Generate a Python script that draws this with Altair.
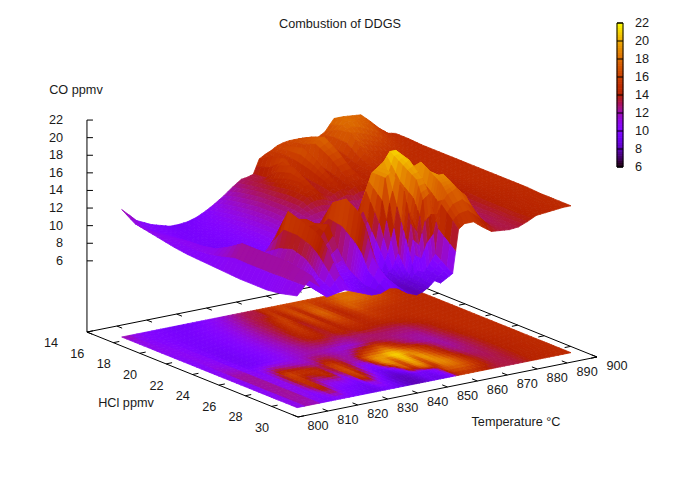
import math
import altair as alt

TEMPERATURE = [805,810,815,818,821,824,827,830,833,836,839,842,845,847,849,851,853,855,857,859,861,864,867,870,873,876,879,882,885,888,891,894,896.6]
HCL = [15.5,16.5,17.5,18.5,19.5,20.5,21.5,22.5,23.5,24.5,25.5,26.5,27.0,27.5,28.8]

CO_H155 = [12.4,10.8,10.0,9.7,9.4,9.4,9.5,9.8,10.3,10.9,11.6,12.4,13.1,13.2,13.4,15.0,15.4,15.7,16.1,16.3,16.4,16.4,16.3,16.0,16.6,17.9,17.9,17.8,17.7,16.8,15.8,15.0,14.8]
CO_H165 = [11.4,10.2,9.9,9.7,9.6,9.7,9.9,10.3,10.8,11.4,12.1,12.8,13.4,13.4,13.6,15.8,14.0,15.8,16.6,14.6,16.6,17.2,15.0,16.0,17.4,18.2,18.0,17.4,16.8,15.8,15.2,14.9,14.8]
CO_H175 = [11.1,10.4,9.8,9.6,9.6,9.8,10.1,10.5,11.1,11.7,12.4,13.1,13.6,14.2,15.6,16.2,13.6,15.6,17.0,13.8,17.2,17.8,14.2,15.6,17.6,16.8,16.4,16.0,15.6,15.2,14.9,14.8,14.7]
CO_H185 = [10.8,10.6,9.7,9.6,9.7,9.9,10.2,10.7,11.3,11.9,12.6,13.2,13.9,14.8,16.0,14.6,13.4,15.2,16.2,13.6,16.4,16.8,14.2,15.0,16.0,15.4,15.2,15.0,14.9,14.8,14.8,14.7,14.7]
CO_H195 = [10.5,10.8,9.6,9.5,9.6,9.9,10.3,10.8,11.4,12.0,12.6,13.3,14.2,15.0,15.2,14.0,13.6,14.6,15.0,14.0,15.2,15.4,14.4,14.8,15.2,15.0,14.8,14.8,14.8,14.8,14.7,14.7,14.7]
CO_H205 = [10.3,10.9,9.5,9.4,9.6,9.9,10.3,10.8,11.4,11.9,12.6,13.3,14.0,14.2,14.2,13.8,13.6,14.0,14.2,13.8,14.2,14.2,14.0,14.0,14.0,14.2,14.4,14.6,14.8,14.8,14.7,14.7,14.7]
CO_H215 = [10.2,11.2,9.5,9.4,9.6,9.9,10.3,10.8,11.4,11.9,12.4,12.8,13.0,13.0,12.8,12.6,12.5,12.6,12.8,12.8,12.9,13.0,13.0,13.0,13.0,13.4,13.8,14.2,14.6,14.7,14.7,14.7,14.7]
CO_H225 = [10.1,12.0,9.6,9.5,9.7,10.1,10.5,11.0,11.6,12.0,12.2,12.0,11.6,11.4,11.3,11.4,11.8,12.4,13.0,13.2,13.0,12.8,12.5,12.4,12.4,13.0,13.6,14.1,14.5,14.7,14.7,14.7,14.7]
CO_H235 = [10.0,13.0,10.0,11.5,13.0,12.6,12.2,11.8,12.0,13.5,13.5,12.5,12.0,12.5,14.0,15.5,16.0,17.0,18.0,16.5,15.0,13.4,12.6,12.2,12.2,12.8,13.4,13.9,14.4,14.6,14.7,14.7,14.7]
CO_H245 = [9.9,13.0,10.2,12.5,16.5,15.4,15.2,14.5,13.0,16.5,14.5,12.0,12.5,17.0,19.0,19.5,20.0,21.0,21.0,20.0,18.5,16.5,14.8,13.2,12.2,12.6,13.2,13.7,14.3,14.5,14.6,14.7,14.7]
CO_H255 = [9.9,13.0,10.4,13.0,16.0,13.0,13.5,15.0,11.5,17.5,14.0,10.5,10.0,14.0,19.0,19.5,16.5,20.0,20.5,17.0,20.0,18.0,15.5,13.5,12.6,12.8,13.2,13.7,14.2,14.4,14.5,14.6,14.7]
CO_H265 = [9.9,13.0,10.4,12.5,15.5,11.5,11.0,11.5,10.0,16.5,12.5,9.5,8.8,9.5,11.0,18.0,15.0,19.0,19.0,15.5,19.0,19.0,17.0,14.5,13.2,13.0,13.3,13.7,14.2,14.4,14.5,14.6,14.6]
CO_H270 = [10.0,13.0,10.3,11.8,15.0,11.0,10.5,10.5,9.6,15.0,11.2,9.0,8.5,9.0,9.6,14.5,13.5,17.0,17.5,14.5,18.5,18.6,17.0,14.8,13.4,13.1,13.3,13.7,14.2,14.4,14.5,14.6,14.6]
CO_H275 = [10.1,12.9,10.2,11.0,14.0,10.5,10.0,9.6,9.2,12.0,10.0,8.6,8.2,8.4,8.8,9.5,9.2,10.0,11.0,16.5,17.5,18.0,17.0,15.0,13.5,13.2,13.4,13.7,14.2,14.4,14.5,14.6,14.6]
CO_H288 = [10.6,12.5,9.8,10.0,10.2,9.8,9.4,9.0,9.0,9.4,9.2,8.4,8.0,8.2,8.6,9.2,8.8,9.2,9.6,14.5,15.0,15.0,14.2,13.5,13.4,13.3,13.4,13.8,14.3,14.4,14.5,14.6,14.6]
CO = [CO_H155,CO_H165,CO_H175,CO_H185,CO_H195,CO_H205,CO_H215,CO_H225,CO_H235,CO_H245,CO_H255,CO_H265,CO_H270,CO_H275,CO_H288]

T_TICKS = list(range(800, 901, 10))
H_TICKS = list(range(14, 31, 2))
Z_TICKS = list(range(6, 23, 2))
CB_TICKS = list(range(6, 23, 2))

Z_BASE = -2.09


def proj(t, h, z=Z_BASE):
    return (round(290 + 2.99 * (t - 800) + 13.19 * (h - 30), 2),
            round(409 - 0.6 * (t - 800) + 5.31 * (h - 30) - 8.8 * (z - Z_BASE), 2))


def poly(pts, value):
    ring = [list(p) for p in pts] + [list(pts[0])]
    return {"type": "Feature", "properties": {"z": value},
            "geometry": {"type": "Polygon", "coordinates": [ring]}}


def seg(a, b):
    return {"type": "Feature", "properties": {},
            "geometry": {"type": "LineString", "coordinates": [list(a), list(b)]}}


# Shading like gnuplot's "pm3d interpolate": each measured mesh cell is painted in
# a few flat strips so the colour can grade across the cell. Depth-sorted, back first.
SUB_T, SUB_H = 2, 3
cells = []
for i in range(len(HCL) - 1):
    for j in range(len(TEMPERATURE) - 1):
        for a in range(SUB_T):
            for b in range(SUB_H):
                u0, u1 = a / SUB_T, (a + 1) / SUB_T
                v0, v1 = b / SUB_H, (b + 1) / SUB_H
                def at(u, v):
                    t = TEMPERATURE[j] + u * (TEMPERATURE[j + 1] - TEMPERATURE[j])
                    h = HCL[i] + v * (HCL[i + 1] - HCL[i])
                    z = (CO[i][j] * (1 - u) * (1 - v) + CO[i][j + 1] * u * (1 - v)
                         + CO[i + 1][j] * (1 - u) * v + CO[i + 1][j + 1] * u * v)
                    return t, h, z
                corners = [at(u0, v0), at(u1, v0), at(u1, v1), at(u0, v1)]
                mean = sum(c[2] for c in corners) / 4
                depth = sum(proj(c[0], c[1])[1] for c in corners) / 4
                cells.append((depth, corners, round(mean, 2)))
cells.sort(key=lambda c: c[0])
surface = [poly([proj(*c) for c in corners], m) for _, corners, m in cells]
base = [poly([proj(c[0], c[1]) for c in corners], m) for _, corners, m in cells]

# Frame and ticks
lines = [seg(proj(800, 14), proj(900, 14)), seg(proj(800, 30), proj(900, 30)),
         seg(proj(800, 14), proj(800, 30)), seg(proj(900, 14), proj(900, 30)),
         seg(proj(800, 14), proj(800, 14, 22))]
for t in T_TICKS:
    lines.append(seg(proj(t, 30), proj(t, 29.6)))
    lines.append(seg(proj(t, 14), proj(t, 14.4)))
for h in H_TICKS:
    lines.append(seg(proj(800, h), proj(802, h)))
    lines.append(seg(proj(900, h), proj(898, h)))
for z in Z_TICKS:
    a = proj(800, 14, z)
    lines.append(seg(a, (a[0] + 6, a[1])))

# Colour bar
CB_X0, CB_X1, CB_TOP, CB_BOTTOM = 609, 615, 15, 159


def cb_y(v):
    return CB_BOTTOM - (v - 6) / 16 * (CB_BOTTOM - CB_TOP)


STEP = 0.25
colorbar = []
v = 6.0
while v < 22:
    colorbar.append(poly([(CB_X0, cb_y(v)), (CB_X1, cb_y(v)),
                          (CB_X1, cb_y(v + STEP)), (CB_X0, cb_y(v + STEP))], v + STEP / 2))
    v += STEP
cb_lines = [seg((CB_X0, CB_TOP), (CB_X1, CB_TOP)), seg((CB_X0, CB_BOTTOM), (CB_X1, CB_BOTTOM)),
            seg((CB_X0, CB_TOP), (CB_X0, CB_BOTTOM)), seg((CB_X1, CB_TOP), (CB_X1, CB_BOTTOM))]
for v in CB_TICKS:
    cb_lines.append(seg((CB_X0, cb_y(v)), (CB_X1, cb_y(v))))


def palette(x):
    r = math.sqrt(x)
    g = x ** 3
    b = max(0.0, math.sin(2 * math.pi * x))
    return "#%02x%02x%02x" % (round(r * 255), round(g * 255), round(b * 255))


STOPS = [palette(k / 48) for k in range(49)]
color_scale = alt.Scale(domain=[6, 22], range=STOPS, clamp=True)
PROJECTION = dict(type="identity", scale=1, translate=[0, 0])


def shapes(features):
    return (alt.Chart(alt.Data(values=features))
            .mark_geoshape(strokeWidth=0.8)
            .encode(color=alt.Color("properties.z:Q", scale=color_scale, legend=None),
                    stroke=alt.Stroke("properties.z:Q", scale=color_scale, legend=None))
            .project(**PROJECTION))


def outline(features):
    return (alt.Chart(alt.Data(values=features))
            .mark_geoshape(filled=False, stroke="#000000", strokeWidth=1)
            .project(**PROJECTION))


def texts(rows, align):
    return (alt.Chart(alt.Data(values=rows))
            .mark_text(font="Liberation Sans", fontSize=12.7, color="#1a1a1a", align=align, baseline="middle")
            .encode(longitude="lon:Q", latitude="lat:Q", text="label:N")
            .project(**PROJECTION))


center_rows = [{"lon": proj(t, 30)[0] + 20, "lat": proj(t, 30)[1] + 9, "label": str(t)} for t in T_TICKS]
center_rows += [{"lon": proj(800, h)[0] - 36, "lat": proj(800, h)[1] + 11, "label": str(h)} for h in H_TICKS]
center_rows += [{"lon": 332, "lat": 16, "label": "Combustion of DDGS"},
                {"lon": 68, "lat": 82, "label": "CO ppmv"},
                {"lon": 118, "lat": 395, "label": "HCl ppmv"},
                {"lon": 508, "lat": 414, "label": "Temperature °C"}]
right_rows = [{"lon": 55, "lat": proj(800, 14, z)[1], "label": str(z)} for z in Z_TICKS]
left_rows = [{"lon": 627, "lat": cb_y(v), "label": str(v)} for v in CB_TICKS]

chart = alt.layer(
    outline(lines),
    shapes(base),
    shapes(surface),
    shapes(colorbar),
    outline(cb_lines),
    texts(center_rows, "center"),
    texts(right_rows, "right"),
    texts(left_rows, "left"),
).properties(width=669, height=463, padding=0,
             autosize=alt.AutoSizeParams(type="none")).configure_view(stroke=None)

chart.save("out.html", embed_options={"renderer": "svg", "actions": False})
